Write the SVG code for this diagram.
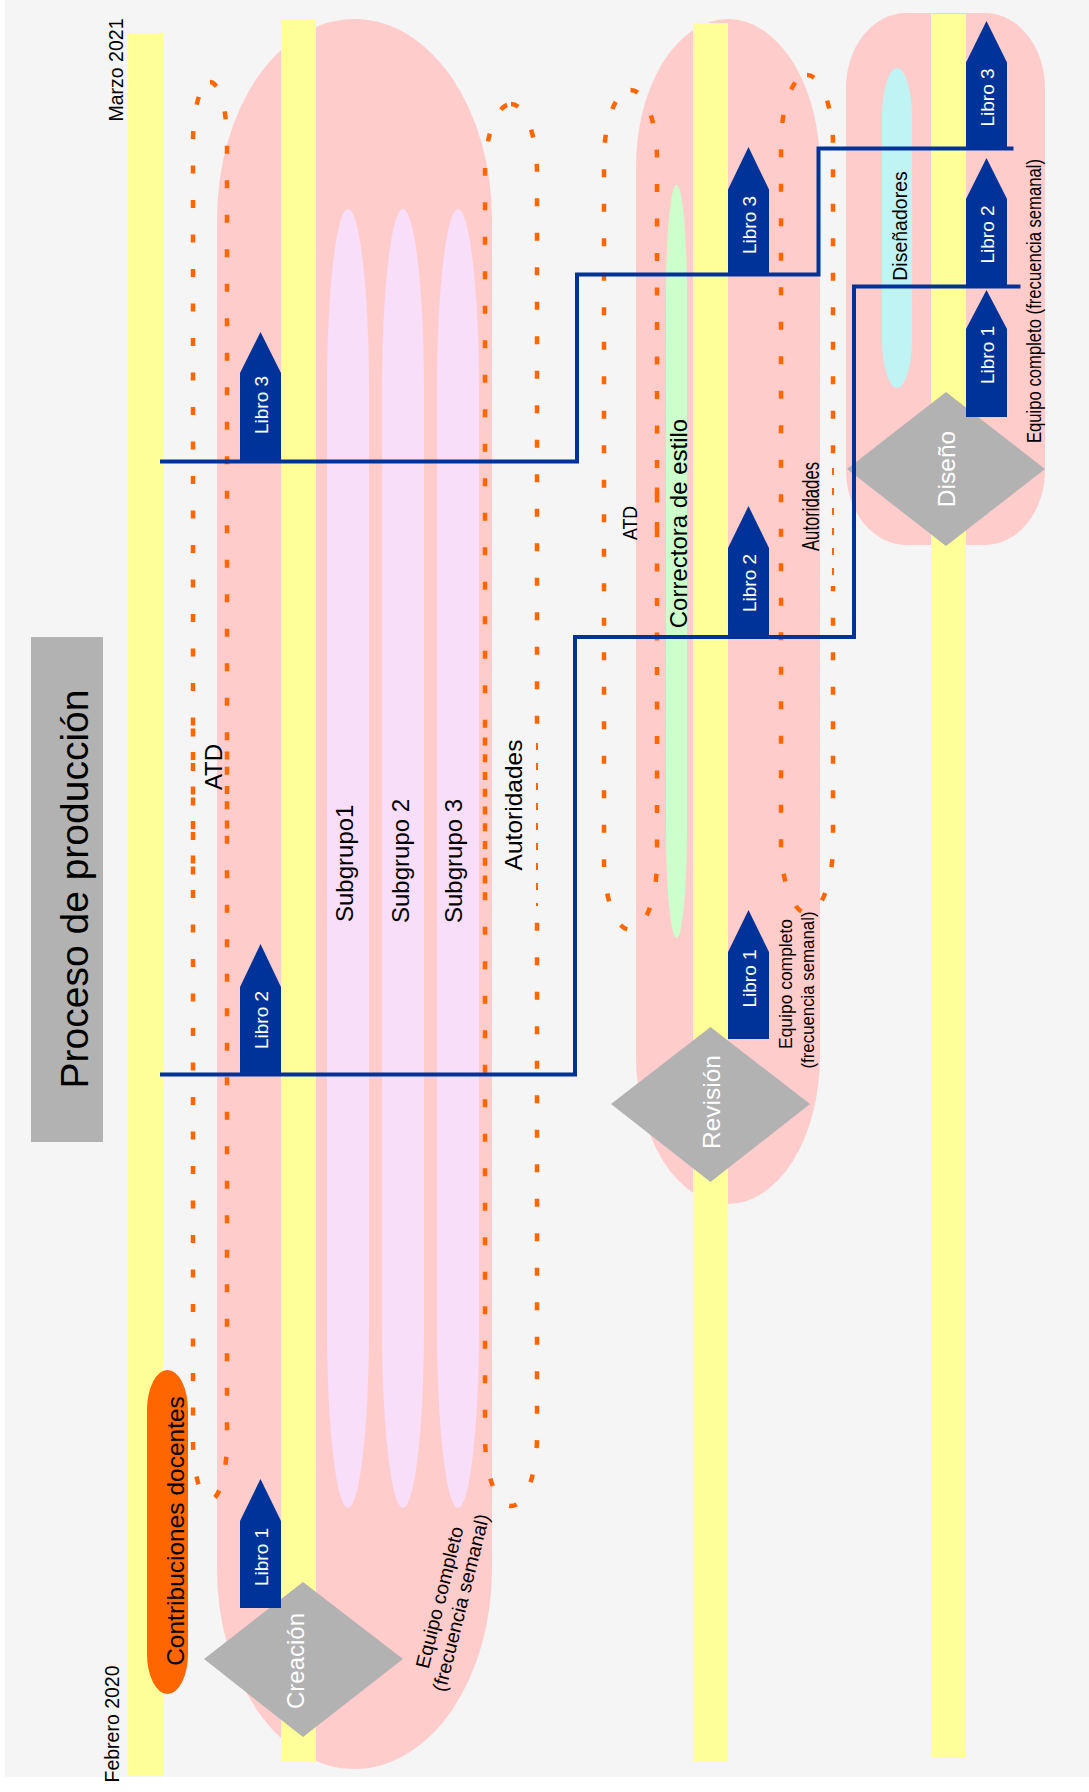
<svg xmlns="http://www.w3.org/2000/svg" width="1089" height="1792" viewBox="0 0 1089 1792">
<defs>
<style>
.bg{fill:#f5f5f5}
.bar{fill:#ffff99}
.phase{fill:#ffcccc}
.sub{fill:#f8def8}
.loop{fill:none;stroke:#ff6600;stroke-width:4.5;stroke-dasharray:8 26.5}
.dense{fill:none;stroke:#ff6600;stroke-width:4.5;stroke-dasharray:8 26.5;stroke-dashoffset:17}
.thin{fill:none;stroke:#ff6600;stroke-width:2;stroke-dasharray:7 13}
.dia{fill:#b2b2b2}
.libro{fill:#003399}
.t{font-family:"Liberation Sans",Arial,Helvetica,sans-serif;fill:#000}
.w{fill:#ffffff}
.lt{font-size:19px;fill:#ffffff}
.conn{fill:none;stroke:#003399;stroke-width:4;stroke-linejoin:miter}
</style>
</defs>
<rect width="1089" height="1792" fill="#ffffff"/>
<rect class="bg" x="5" y="0" width="1084" height="1777"/>

<g id="timeline">
<rect class="bar" x="128" y="33" width="35" height="1743"/>
<text class="t" font-size="19.5" text-anchor="middle" transform="translate(123,70) rotate(-90)">Marzo 2021</text>
<text class="t" font-size="19.5" text-anchor="middle" transform="translate(119,1724) rotate(-90)">Febrero 2020</text>
</g>

<g id="titulo">
<rect x="31" y="637" width="72" height="505" fill="#b2b2b2"/>
<text class="t" font-size="39" text-anchor="middle" transform="translate(88,889) rotate(-90)">Proceso de producción</text>
</g>

<g id="contribuciones">
<rect x="147" y="1370" width="41" height="324" rx="20.5" ry="40" fill="#ff6600"/>
<text class="t" font-size="24.5" text-anchor="middle" transform="translate(184,1531) rotate(-90)">Contribuciones docentes</text>
</g>

<g id="fase-creacion">
<rect class="phase" x="217" y="19" width="275" height="1750" rx="137.5" ry="200"/>
<rect class="bar" x="281" y="19" width="35" height="1743"/>
<rect class="sub" x="327" y="209" width="42" height="1299" rx="21" ry="180"/>
<rect class="sub" x="382" y="209" width="42" height="1299" rx="21" ry="180"/>
<rect class="sub" x="437" y="209" width="42" height="1299" rx="21" ry="180"/>
<text class="t" font-size="24" transform="translate(353,922) rotate(-90)">Subgrupo1</text>
<text class="t" font-size="24" transform="translate(409,923) rotate(-90)">Subgrupo 2</text>
<text class="t" font-size="24" transform="translate(462,923) rotate(-90)">Subgrupo 3</text>
<g id="atd-creacion">
<rect class="loop" x="193" y="82" width="34" height="1418" rx="17" ry="60"/>
<line class="dense" x1="193" y1="711" x2="193" y2="875"/>
<line class="dense" x1="227" y1="734" x2="227" y2="837"/>
<text class="t" font-size="24" text-anchor="middle" transform="translate(222,767) rotate(-90)">ATD</text>
</g>
<g id="autoridades-creacion">
<rect class="loop" x="485" y="104" width="52" height="1402" rx="26" ry="70"/>
<line class="dense" x1="485" y1="720" x2="485" y2="888"/>
<rect class="bg" x="534" y="741" width="6" height="165"/>
<line class="thin" x1="537" y1="743" x2="537" y2="906"/>
<text class="t" font-size="24.5" text-anchor="middle" transform="translate(522,805) rotate(-90)">Autoridades</text>
</g>
<g transform="translate(446,1599) rotate(-76)">
<text class="t" font-size="19.5" text-anchor="middle" x="0" y="0">Equipo completo</text>
<text class="t" font-size="19.5" text-anchor="middle" x="0" y="22">(frecuencia semanal)</text>
</g>
</g>

<g id="fase-revision">
<rect class="phase" x="636" y="19" width="184" height="1185" rx="92" ry="148"/>
<rect class="bar" x="693" y="23" width="35" height="1739"/>
<rect x="666" y="185" width="21" height="753" rx="10.5" ry="110" fill="#ccffcc"/>
<text class="t" font-size="24" text-anchor="middle" transform="translate(687,523.5) rotate(-90)">Correctora de estilo</text>
<g id="atd-revision">
<rect class="loop" x="604" y="90" width="53" height="840" rx="26.5" ry="70"/>
<line class="dense" x1="657" y1="470" x2="657" y2="547"/>
<text class="t" font-size="20" text-anchor="middle" textLength="34" lengthAdjust="spacingAndGlyphs" transform="translate(637,523) rotate(-90)">ATD</text>
</g>
<g id="autoridades-revision">
<rect class="loop" x="781" y="75" width="52" height="838" rx="26" ry="70"/>
<rect class="bg" x="830" y="466" width="6" height="120"/>
<line class="thin" x1="833" y1="468" x2="833" y2="585"/>
<text class="t" font-size="24" text-anchor="middle" textLength="89" lengthAdjust="spacingAndGlyphs" transform="translate(819,506.5) rotate(-90)">Autoridades</text>
</g>
<text class="t" font-size="18" text-anchor="middle" textLength="130" lengthAdjust="spacingAndGlyphs" transform="translate(792,984) rotate(-90)">Equipo completo</text>
<text class="t" font-size="18" text-anchor="middle" textLength="157" lengthAdjust="spacingAndGlyphs" transform="translate(814,990) rotate(-90)">(frecuencia semanal)</text>
</g>

<g id="fase-diseno">
<rect class="phase" x="846" y="13" width="199" height="532" rx="60" ry="75"/>
<rect class="bar" x="931" y="14" width="35" height="1744"/>
<rect x="882" y="68" width="30" height="320" rx="15" ry="50" fill="#c0f4f4"/>
<text class="t" font-size="19.5" text-anchor="middle" transform="translate(907,226) rotate(-90)">Diseñadores</text>
<text class="t" font-size="20" text-anchor="middle" textLength="284" lengthAdjust="spacingAndGlyphs" transform="translate(1041,301) rotate(-90)">Equipo completo (frecuencia semanal)</text>
</g>

<g id="creacion">
<polygon class="dia" points="204,1659 303,1582 403,1659 303,1737"/>
<text class="t w" font-size="24" text-anchor="middle" transform="translate(304,1661) rotate(-90)">Creación</text>
</g>
<g id="revision">
<polygon class="dia" points="611,1104 710.5,1027 810,1104 710.5,1182"/>
<text class="t w" font-size="24.5" text-anchor="middle" transform="translate(720,1102) rotate(-90)">Revisión</text>
</g>
<g id="diseno">
<polygon class="dia" points="847,469 946,392 1045,469 946,546"/>
<text class="t w" font-size="24.5" text-anchor="middle" transform="translate(955,469) rotate(-90)">Diseño</text>
</g>

<g id="connectors">
<path class="conn" d="M160,461.5 H577 V274.5 H818.5 V148.5 H1013.5"/>
<path class="conn" d="M160,1074.5 H575 V637 H854 V286.5 H1020.5"/>
</g>

<g id="creacion-libro1">
<polygon class="libro" points="240,1608 240,1521 260.5,1479 281,1521 281,1608"/>
<text class="t lt" text-anchor="middle" transform="translate(268,1557) rotate(-90)">Libro 1</text>
</g>
<g id="creacion-libro2">
<polygon class="libro" points="240,1074.5 240,987 260.5,944 281,987 281,1074.5"/>
<text class="t lt" text-anchor="middle" transform="translate(268,1020) rotate(-90)">Libro 2</text>
</g>
<g id="creacion-libro3">
<polygon class="libro" points="240,461.5 240,373 260.5,332 281,373 281,461.5"/>
<text class="t lt" text-anchor="middle" transform="translate(268,405) rotate(-90)">Libro 3</text>
</g>

<g id="revision-libro1">
<polygon class="libro" points="728,1039 728,952 748.5,910 769,952 769,1039"/>
<text class="t lt" text-anchor="middle" transform="translate(756,978.5) rotate(-90)">Libro 1</text>
</g>
<g id="revision-libro2">
<polygon class="libro" points="728,637 728,548 748.5,506 769,548 769,637"/>
<text class="t lt" text-anchor="middle" transform="translate(756,583) rotate(-90)">Libro 2</text>
</g>
<g id="revision-libro3">
<polygon class="libro" points="728,274.5 728,189.5 748.5,147 769,189.5 769,274.5"/>
<text class="t lt" text-anchor="middle" transform="translate(756,225) rotate(-90)">Libro 3</text>
</g>

<g id="diseno-libro1">
<polygon class="libro" points="966,417 966,329 986.5,290 1007,329 1007,417"/>
<text class="t lt" text-anchor="middle" transform="translate(993.5,355) rotate(-90)">Libro 1</text>
</g>
<g id="diseno-libro2">
<polygon class="libro" points="966,286.5 966,199 986.5,158 1007,199 1007,286.5"/>
<text class="t lt" text-anchor="middle" transform="translate(993.5,234.5) rotate(-90)">Libro 2</text>
</g>
<g id="diseno-libro3">
<polygon class="libro" points="966,148.5 966,62.5 986.5,21 1007,62.5 1007,148.5"/>
<text class="t lt" text-anchor="middle" transform="translate(993.5,97.5) rotate(-90)">Libro 3</text>
</g>
</svg>
